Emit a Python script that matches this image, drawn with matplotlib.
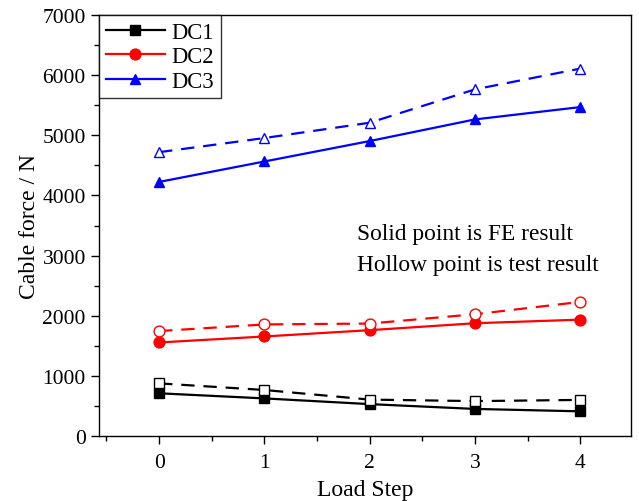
import matplotlib
matplotlib.use("Agg")
import matplotlib.pyplot as plt
from matplotlib.ticker import MultipleLocator

plt.rcParams['font.family'] = ['Liberation Serif', 'DejaVu Serif']
plt.rcParams['mathtext.fontset'] = 'stix'

steps = [0, 1, 2, 3, 4]
dc1_fe = [710, 625, 530, 450, 410]
dc1_test = [875, 765, 605, 580, 600]
dc2_fe = [1555, 1655, 1760, 1875, 1935]
dc2_test = [1745, 1855, 1870, 2025, 2230]
dc3_fe = [4225, 4565, 4905, 5265, 5470]
dc3_test = [4720, 4955, 5210, 5765, 6110]

series = [
    ("DC1", dc1_fe, dc1_test, "black", "s"),
    ("DC2", dc2_fe, dc2_test, "red", "o"),
    ("DC3", dc3_fe, dc3_test, "blue", "^"),
]

fig = plt.figure(figsize=(6.39, 5.02), dpi=100)
ax = fig.add_axes([0.155, 0.1295, 0.8325, 0.8385])

for name, fe, test, color, mk in series:
    ax.plot(steps, fe, color=color, marker=mk, markersize=7.8, lw=1.6,
            label=name)
    ax.plot(steps, test, color=color, marker=mk, markersize=7.8, lw=1.6,
            ls=(0, (6, 4)), markerfacecolor="white", markeredgecolor=color,
            markeredgewidth=1.0)

ax.set_xlim(-0.57, 4.48)
ax.set_ylim(0, 7000)
ax.xaxis.set_major_locator(MultipleLocator(1))
ax.xaxis.set_minor_locator(MultipleLocator(0.5))
ax.yaxis.set_major_locator(MultipleLocator(1000))
ax.yaxis.set_minor_locator(MultipleLocator(500))
ax.tick_params(which="both", direction="out", top=False, right=False,
               labelsize=15.5, width=1.0)
ax.tick_params(which="major", length=6)
ax.tick_params(which="minor", length=3.5)
ax.tick_params(axis="x", pad=6)
for s in ax.spines.values():
    s.set_linewidth(1.0)

ax.set_xlabel("Load Step", fontsize=17, labelpad=5)
ax.set_ylabel("Cable force / N", fontsize=17, labelpad=2)

leg = ax.legend(loc="upper left", fontsize=16.3, frameon=True, fancybox=False,
                edgecolor="black", borderaxespad=0, handlelength=2.6,
                handletextpad=0.3, labelspacing=0.15, borderpad=0.3)
leg.get_frame().set_linewidth(1.0)

ax.text(0.485, 0.506, "Solid point is FE result\nHollow point is test result",
        transform=ax.transAxes, fontsize=16.8, va="top", ha="left",
        linespacing=1.6)

fig.savefig("out.png", dpi=100)
